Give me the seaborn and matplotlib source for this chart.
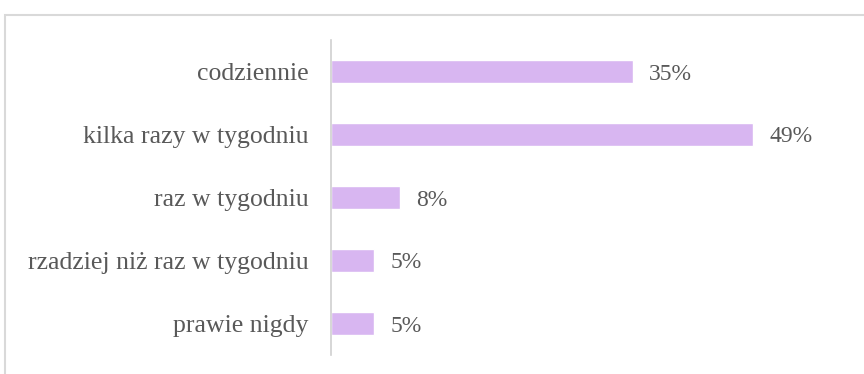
import matplotlib
matplotlib.use("Agg")
import matplotlib.pyplot as plt
import seaborn as sns
import pandas as pd
from matplotlib.patches import Rectangle

categories = ["codziennie", "kilka razy w tygodniu", "raz w tygodniu",
              "rzadziej niż raz w tygodniu", "prawie nigdy"]
values = [35, 49, 8, 5, 5]
labels = ["35%", "49%", "8%", "5%", "5%"]

df = pd.DataFrame({"cat": categories, "val": values})

sns.set_style("white")
plt.rcParams["font.family"] = ["Liberation Serif", "DejaVu Serif"]

fig = plt.figure(figsize=(8.64, 3.74), dpi=100)
ax = fig.add_axes([331/864, 1 - 355/374, (848-331)/864, (355-40)/374])

sns.barplot(data=df, x="val", y="cat", orient="h", color="#d8b6f1",
            saturation=1, width=0.36, ax=ax)

ax.set_xlim(0, 60)
ax.set_ylim(4.5, -0.5)
ax.set_xlabel("")
ax.set_ylabel("")
ax.set_xticks([])
for s in ["top", "right", "bottom"]:
    ax.spines[s].set_visible(False)
ax.spines["left"].set_color("#d0d0d0")
ax.spines["left"].set_linewidth(1.2)
ax.tick_params(axis="y", length=0, pad=16, labelsize=18.5, labelcolor="#595959")
for lbl in ax.get_yticklabels():
    lbl.set_verticalalignment("center_baseline")

for i, (v, t) in enumerate(zip(values, labels)):
    ax.text(v + 1.9, i, t, va="center_baseline", ha="left", fontsize=17, color="#595959")

fig.patches.append(Rectangle((5/864, -0.1), 1.2, 1 - 15/374 + 0.1,
                             transform=fig.transFigure, fill=False,
                             edgecolor="#d9d9d9", linewidth=1.5))

fig.savefig("out.png", dpi=100, facecolor="white")
